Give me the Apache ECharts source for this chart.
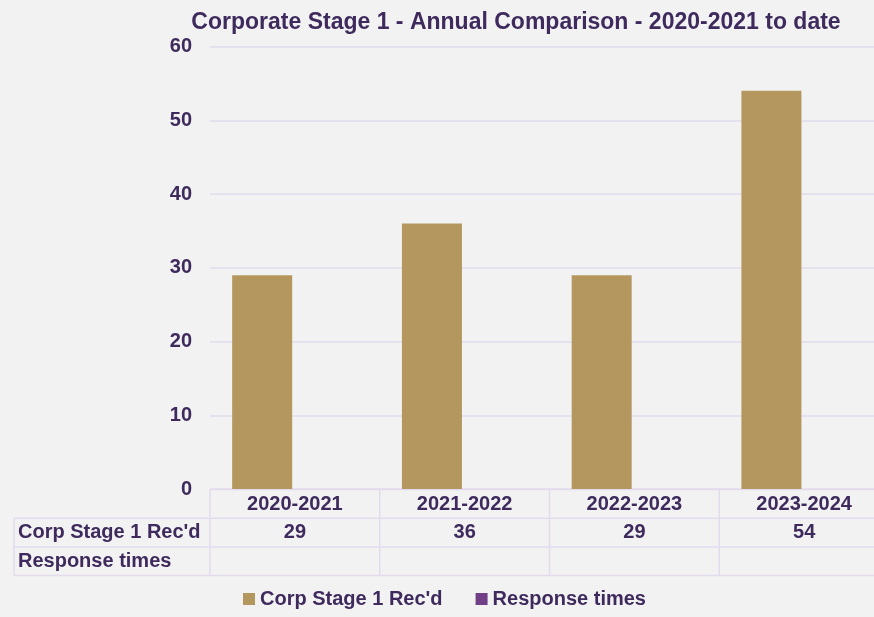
<!DOCTYPE html>
<html>
<head>
<meta charset="utf-8">
<script src="https://cdn.jsdelivr.net/npm/echarts@6/dist/echarts.min.js"></script>
<style>
  html, body { margin: 0; padding: 0; background: #f2f2f2; }
  #chart { width: 874px; height: 617px; }
</style>
</head>
<body>
<div id="chart"></div>
<script>
// Financial years and received counts
const categories = ['2020-2021', '2021-2022', '2022-2023', '2023-2024'];
const corpStage1 = [29, 36, 29, 54];
const responseTimes = [null, null, null, null];
const seriesNames = ["Corp Stage 1 Rec'd", 'Response times'];
const yMin = 0, yMax = 60, yStep = 10;

const TEXT = '#3e2a5c';
const LINE = '#e2dbee';
const FONT = '"Liberation Sans", Arial, sans-serif';

const chart = echarts.init(document.getElementById('chart'), null, { renderer: 'canvas' });

const option = {
  backgroundColor: '#f2f2f2',
  animation: false,
  title: {
    text: 'Corporate Stage 1 - Annual Comparison - 2020-2021 to date',
    left: 511,
    textAlign: 'center',
    top: 6,
    textStyle: { fontFamily: FONT, fontSize: 23, fontWeight: 'bold', color: TEXT }
  },
  // the last column runs past the right edge of the canvas
  grid: { left: 210, right: -15, top: 46.5, bottom: 128, containLabel: false, outerBoundsMode: 'none' },
  legend: {
    bottom: 3,
    left: 238,
    icon: 'rect',
    itemWidth: 12,
    itemHeight: 12,
    itemGap: 33,
    textStyle: { fontFamily: FONT, fontSize: 20, fontWeight: 'bold', color: TEXT },
    data: seriesNames
  },
  xAxis: {
    type: 'category',
    data: categories,
    axisLine: { show: false },
    axisTick: { show: false },
    axisLabel: { margin: 5, fontFamily: FONT, fontSize: 20, fontWeight: 'bold', color: TEXT }
  },
  yAxis: {
    type: 'value',
    min: yMin, max: yMax, interval: yStep,
    axisLine: { show: false },
    axisTick: { show: false },
    splitLine: { lineStyle: { color: LINE, width: 1.5 } },
    axisLabel: { margin: 18, fontFamily: FONT, fontSize: 20, fontWeight: 'bold', color: TEXT }
  },
  series: [
    {
      name: seriesNames[0], type: 'bar', data: corpStage1,
      barWidth: 60, barGap: '9%',
      itemStyle: { color: '#b4975e' }
    },
    {
      name: seriesNames[1], type: 'bar', data: responseTimes,
      barWidth: 60,
      itemStyle: { color: '#703f86' }
    }
  ]
};
chart.setOption(option);

// Data table under the plot, laid out from the axis scale
function drawTable() {
  const c0 = chart.convertToPixel({ xAxisIndex: 0 }, categories[0]);
  const c1 = chart.convertToPixel({ xAxisIndex: 0 }, categories[1]);
  const band = c1 - c0;
  const x0 = c0 - band / 2;
  const xEnd = x0 + band * categories.length;
  const y0 = chart.convertToPixel({ yAxisIndex: 0 }, yMin) + 0.5;
  const rowH = 28.7;
  const tableLeft = 14;
  const lineStyle = { stroke: LINE, lineWidth: 1.5 };
  const els = [];
  const hline = (xa, xb, y) => els.push({ type: 'line', shape: { x1: xa, y1: y, x2: xb, y2: y }, style: lineStyle, silent: true });
  const vline = (x, ya, yb) => els.push({ type: 'line', shape: { x1: x, y1: ya, x2: x, y2: yb }, style: lineStyle, silent: true });

  hline(x0, xEnd, y0);
  hline(tableLeft, xEnd, y0 + rowH);
  hline(tableLeft, xEnd, y0 + 2 * rowH);
  hline(tableLeft, xEnd, y0 + 3 * rowH);
  vline(tableLeft, y0 + rowH, y0 + 3 * rowH);
  for (let i = 0; i <= categories.length; i++) vline(x0 + band * i, y0, y0 + 3 * rowH);

  const rows = [corpStage1, responseTimes];
  rows.forEach((vals, r) => {
    const yc = y0 + rowH * (r + 1.5);
    els.push({
      type: 'text', silent: true,
      style: { x: tableLeft + 4, y: yc, text: seriesNames[r], fill: TEXT, font: 'bold 20px ' + FONT, textAlign: 'left', textVerticalAlign: 'middle' }
    });
    vals.forEach((v, i) => {
      if (v == null) return;
      els.push({
        type: 'text', silent: true,
        style: { x: chart.convertToPixel({ xAxisIndex: 0 }, categories[i]), y: yc, text: String(v), fill: TEXT, font: 'bold 20px ' + FONT, textAlign: 'center', textVerticalAlign: 'middle' }
      });
    });
  });
  chart.setOption({ graphic: { elements: els } });
}
drawTable();
</script>
</body>
</html>
